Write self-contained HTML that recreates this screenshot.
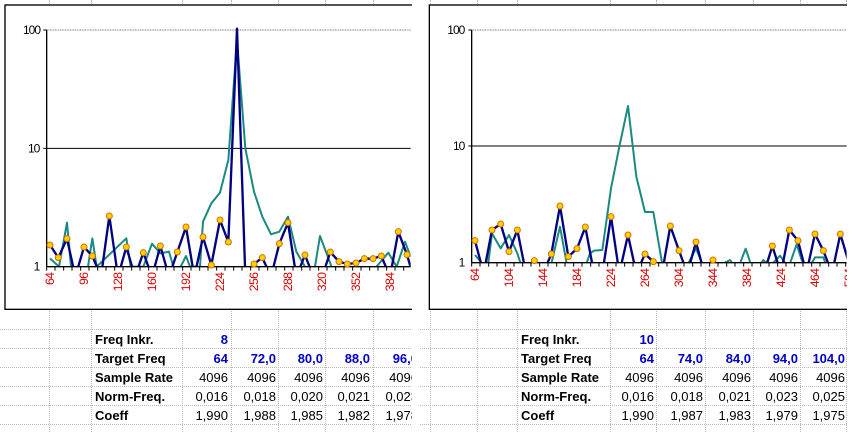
<!DOCTYPE html>
<html><head><meta charset="utf-8"><style>
html,body{margin:0;padding:0;background:#fff;}
body{width:853px;height:432px;position:relative;overflow:hidden;font-family:"Liberation Sans",Arial,sans-serif;}
.win{position:absolute;top:0;height:432px;overflow:hidden;background:#fff;}
.vl{position:absolute;top:0;width:0;height:432px;border-left:1px dotted #b8b8b8;}
.hl{position:absolute;left:0;height:0;border-top:1px dotted #b8b8b8;}
.t{position:absolute;font-size:13px;line-height:19px;height:19px;white-space:nowrap;}
.b{font-weight:bold;}
.blue{color:#0000c8;font-weight:bold;}
svg{position:absolute;left:0;top:0;}
</style></head><body>

<!-- LEFT WINDOW -->
<div class="win" style="left:0;width:412px;">
  <div class="vl" style="left:49px"></div><div class="vl" style="left:91px"></div><div class="vl" style="left:182px"></div>
  <div class="vl" style="left:231px"></div><div class="vl" style="left:278px"></div><div class="vl" style="left:325px"></div>
  <div class="vl" style="left:373px"></div>
  <div class="hl" style="top:329px;width:415px"></div><div class="hl" style="top:348px;width:415px"></div>
  <div class="hl" style="top:367px;width:415px"></div><div class="hl" style="top:386px;width:415px"></div>
  <div class="hl" style="top:405px;width:415px"></div><div class="hl" style="top:424px;width:415px"></div>
  <svg width="430" height="320" viewBox="0 0 1290 960">
    <rect x="15" y="15" width="1300" height="913" fill="#fff" stroke="#000" stroke-width="4"/>
    <defs><clipPath id="c1"><rect x="140" y="60" width="1092" height="740"/></clipPath></defs>
    <line x1="140" y1="90" x2="1232" y2="90" stroke="#777" stroke-width="3" stroke-dasharray="3,2"/>
    <line x1="140" y1="445" x2="1232" y2="445" stroke="#000" stroke-width="3"/>
    <line x1="140" y1="90" x2="140" y2="800" stroke="#000" stroke-width="4"/>
    <line x1="130" y1="90" x2="140" y2="90" stroke="#000" stroke-width="3"/>
    <line x1="130" y1="445" x2="140" y2="445" stroke="#000" stroke-width="3"/>
    <g font-size="36" fill="#000" text-anchor="end" letter-spacing="-3">
      <text x="120" y="102">100</text><text x="118" y="457">10</text><text x="118" y="812">1</text>
    </g>
    <g clip-path="url(#c1)" fill="none" stroke-linejoin="round">
      <polyline stroke="#1a8a80" stroke-width="6" points="150,775 177,800 201,668 213,800 252,830 264,800 277,715 290,800 379,715 392,800 430,800 456,731 481,760 507,755 520,800 532,820 558,768 570,800 600,800 609,665 634,610 660,578 685,480 711,120 736,445 762,575 787,650 813,703 838,695 864,650 889,755 915,800 940,830 960,708 991,790 1000,820 1125,805 1165,758 1190,800 1215,725 1232,770"/>
      <polyline stroke="#000080" stroke-width="7" points="150,735 175,773 201,716 226,830 252,741 277,768 303,830 328,648 354,830 379,741 405,830 430,758 456,830 481,738 507,830 532,756 558,681 583,830 609,711 634,795 660,660 685,726 711,86 736,830 762,792 787,773 813,830 838,731 864,668 889,830 915,765 940,830 966,830 991,756 1017,785 1042,792 1068,789 1093,776 1119,776 1144,768 1170,830 1195,695 1221,764 1240,830"/>
    </g>
    <line x1="140" y1="800" x2="1232" y2="800" stroke="#000" stroke-width="4"/>
    <g stroke="#000" stroke-width="3">
      <path d="M140 800v12M165 800v12M191 800v12M216 800v12M242 800v12M267 800v12M293 800v12M318 800v12M344 800v12M369 800v12M395 800v12M420 800v12M446 800v12M471 800v12M497 800v12M522 800v12M548 800v12M573 800v12M599 800v12M624 800v12M650 800v12M675 800v12M701 800v12M726 800v12M752 800v12M777 800v12M803 800v12M828 800v12M854 800v12M879 800v12M905 800v12M930 800v12M956 800v12M981 800v12M1007 800v12M1032 800v12M1058 800v12M1083 800v12M1109 800v12M1134 800v12M1160 800v12M1185 800v12M1211 800v12"/>
    </g>
    <g fill="#ffd000" stroke="#d07000" stroke-width="3">
      <circle cx="150" cy="735" r="9"/><circle cx="175" cy="773" r="9"/><circle cx="201" cy="716" r="9"/><circle cx="252" cy="741" r="9"/><circle cx="277" cy="768" r="9"/><circle cx="328" cy="648" r="9"/><circle cx="379" cy="741" r="9"/><circle cx="430" cy="758" r="9"/><circle cx="481" cy="738" r="9"/><circle cx="532" cy="756" r="9"/><circle cx="558" cy="681" r="9"/><circle cx="609" cy="711" r="9"/><circle cx="634" cy="795" r="9"/><circle cx="660" cy="660" r="9"/><circle cx="685" cy="726" r="9"/><circle cx="762" cy="792" r="9"/><circle cx="787" cy="773" r="9"/><circle cx="838" cy="731" r="9"/><circle cx="864" cy="668" r="9"/><circle cx="915" cy="765" r="9"/><circle cx="991" cy="756" r="9"/><circle cx="1017" cy="785" r="9"/><circle cx="1042" cy="792" r="9"/><circle cx="1068" cy="789" r="9"/><circle cx="1093" cy="776" r="9"/><circle cx="1119" cy="776" r="9"/><circle cx="1144" cy="768" r="9"/><circle cx="1195" cy="695" r="9"/><circle cx="1221" cy="764" r="9"/>
    </g>
    <g font-size="37" fill="#e00000" text-anchor="end" letter-spacing="-2">
      <text transform="translate(162,818) rotate(-90)">64</text>
      <text transform="translate(264,818) rotate(-90)">96</text>
      <text transform="translate(366,818) rotate(-90)">128</text>
      <text transform="translate(468,818) rotate(-90)">160</text>
      <text transform="translate(570,818) rotate(-90)">192</text>
      <text transform="translate(672,818) rotate(-90)">224</text>
      <text transform="translate(774,818) rotate(-90)">256</text>
      <text transform="translate(876,818) rotate(-90)">288</text>
      <text transform="translate(978,818) rotate(-90)">320</text>
      <text transform="translate(1080,818) rotate(-90)">352</text>
      <text transform="translate(1182,818) rotate(-90)">384</text>
    </g>
  </svg>
  <div class="t b" style="left:95px;top:330px">Freq Inkr.</div>
  <div class="t b" style="left:95px;top:349px">Target Freq</div>
  <div class="t b" style="left:95px;top:368px">Sample Rate</div>
  <div class="t b" style="left:95px;top:387px">Norm-Freq.</div>
  <div class="t b" style="left:95px;top:406px">Coeff</div>
  <div class="t blue" style="left:182px;width:46px;text-align:right;top:330px">8</div>
  <div class="t blue" style="left:182px;width:46px;text-align:right;top:349px">64</div>
  <div class="t blue" style="left:231px;width:45px;text-align:right;top:349px">72,0</div>
  <div class="t blue" style="left:278px;width:45px;text-align:right;top:349px">80,0</div>
  <div class="t blue" style="left:325px;width:45px;text-align:right;top:349px">88,0</div>
  <div class="t blue" style="left:373px;width:45px;text-align:right;top:349px">96,0</div>
  <div class="t" style="left:182px;width:46px;text-align:right;top:368px">4096</div>
  <div class="t" style="left:231px;width:45px;text-align:right;top:368px">4096</div>
  <div class="t" style="left:278px;width:45px;text-align:right;top:368px">4096</div>
  <div class="t" style="left:325px;width:45px;text-align:right;top:368px">4096</div>
  <div class="t" style="left:373px;width:45px;text-align:right;top:368px">4096</div>
  <div class="t" style="left:182px;width:46px;text-align:right;top:387px">0,016</div>
  <div class="t" style="left:231px;width:45px;text-align:right;top:387px">0,018</div>
  <div class="t" style="left:278px;width:45px;text-align:right;top:387px">0,020</div>
  <div class="t" style="left:325px;width:45px;text-align:right;top:387px">0,021</div>
  <div class="t" style="left:373px;width:45px;text-align:right;top:387px">0,023</div>
  <div class="t" style="left:182px;width:46px;text-align:right;top:406px">1,990</div>
  <div class="t" style="left:231px;width:45px;text-align:right;top:406px">1,988</div>
  <div class="t" style="left:278px;width:45px;text-align:right;top:406px">1,985</div>
  <div class="t" style="left:325px;width:45px;text-align:right;top:406px">1,982</div>
  <div class="t" style="left:373px;width:45px;text-align:right;top:406px">1,978</div>
</div>

<!-- RIGHT WINDOW -->
<div class="win" style="left:420px;width:427px;">
  <div class="vl" style="left:10px"></div><div class="vl" style="left:57px"></div><div class="vl" style="left:97px"></div>
  <div class="vl" style="left:190px"></div><div class="vl" style="left:236px"></div><div class="vl" style="left:285px"></div>
  <div class="vl" style="left:333px"></div><div class="vl" style="left:380px"></div><div class="vl" style="left:426px"></div>
  <div class="hl" style="top:329px;width:427px"></div><div class="hl" style="top:348px;width:427px"></div>
  <div class="hl" style="top:367px;width:427px"></div><div class="hl" style="top:386px;width:427px"></div>
  <div class="hl" style="top:405px;width:427px"></div><div class="hl" style="top:424px;width:427px"></div>
  <svg width="433" height="320" viewBox="0 0 1299 960">
    <rect x="28" y="15" width="1300" height="913" fill="#fff" stroke="#000" stroke-width="4"/>
    <defs><clipPath id="c2"><rect x="155" y="60" width="1125" height="728"/></clipPath></defs>
    <line x1="155" y1="90" x2="1280" y2="90" stroke="#777" stroke-width="3" stroke-dasharray="3,2"/>
    <line x1="155" y1="438" x2="1280" y2="438" stroke="#000" stroke-width="3"/>
    <line x1="155" y1="90" x2="155" y2="788" stroke="#000" stroke-width="4"/>
    <line x1="145" y1="90" x2="155" y2="90" stroke="#000" stroke-width="3"/>
    <line x1="145" y1="438" x2="155" y2="438" stroke="#000" stroke-width="3"/>
    <g font-size="36" fill="#000" text-anchor="end" letter-spacing="-3">
      <text x="133" y="102">100</text><text x="133" y="450">10</text><text x="133" y="800">1</text>
    </g>
    <g clip-path="url(#c2)" fill="none" stroke-linejoin="round">
      <polyline stroke="#1a8a80" stroke-width="6" points="165,765 191,795 205,788 216,700 242,745 267,705 292,760 305,800 392,800 420,680 440,790 445,800 496,800 510,760 522,752 547,750 573,565 598,440 624,318 649,530 675,636 700,636 726,788 800,800 828,745 850,800 915,788 930,780 945,800 960,790 977,746 995,800 1015,800 1030,780 1045,795 1060,788 1080,767 1100,795 1110,790 1130,733 1145,780 1160,800 1175,790 1185,772 1210,772 1220,800"/>
      <polyline stroke="#000080" stroke-width="7" points="165,722 191,820 216,690 242,672 267,755 292,690 318,820 343,782 369,820 394,762 420,618 445,770 471,746 496,681 522,820 547,820 573,650 598,820 624,705 649,820 675,762 700,785 726,820 751,678 777,752 802,820 828,726 853,820 879,780 904,820 1032,820 1057,738 1083,820 1108,690 1134,722 1159,820 1185,702 1210,752 1236,820 1261,702 1287,790"/>
    </g>
    <line x1="155" y1="788" x2="1280" y2="788" stroke="#000" stroke-width="4"/>
    <g stroke="#000" stroke-width="3">
      <path d="M155 788v12M180 788v12M206 788v12M231 788v12M257 788v12M282 788v12M308 788v12M333 788v12M359 788v12M384 788v12M410 788v12M435 788v12M461 788v12M486 788v12M512 788v12M537 788v12M563 788v12M588 788v12M614 788v12M639 788v12M665 788v12M690 788v12M716 788v12M741 788v12M767 788v12M792 788v12M818 788v12M843 788v12M869 788v12M894 788v12M920 788v12M945 788v12M971 788v12M996 788v12M1022 788v12M1047 788v12M1073 788v12M1098 788v12M1124 788v12M1149 788v12M1175 788v12M1200 788v12M1226 788v12M1251 788v12M1277 788v12"/>
    </g>
    <g fill="#ffd000" stroke="#d07000" stroke-width="3">
      <circle cx="165" cy="722" r="9"/><circle cx="216" cy="690" r="9"/><circle cx="242" cy="672" r="9"/><circle cx="267" cy="755" r="9"/><circle cx="292" cy="690" r="9"/><circle cx="343" cy="782" r="9"/><circle cx="394" cy="762" r="9"/><circle cx="420" cy="618" r="9"/><circle cx="445" cy="770" r="9"/><circle cx="471" cy="746" r="9"/><circle cx="496" cy="681" r="9"/><circle cx="573" cy="650" r="9"/><circle cx="624" cy="705" r="9"/><circle cx="675" cy="762" r="9"/><circle cx="700" cy="785" r="9"/><circle cx="751" cy="678" r="9"/><circle cx="777" cy="752" r="9"/><circle cx="828" cy="726" r="9"/><circle cx="879" cy="780" r="9"/><circle cx="1057" cy="738" r="9"/><circle cx="1108" cy="690" r="9"/><circle cx="1134" cy="722" r="9"/><circle cx="1185" cy="702" r="9"/><circle cx="1210" cy="752" r="9"/><circle cx="1261" cy="702" r="9"/>
    </g>
    <g font-size="37" fill="#e00000" text-anchor="end" letter-spacing="-2">
      <text transform="translate(177,806) rotate(-90)">64</text>
      <text transform="translate(279,806) rotate(-90)">104</text>
      <text transform="translate(381,806) rotate(-90)">144</text>
      <text transform="translate(483,806) rotate(-90)">184</text>
      <text transform="translate(585,806) rotate(-90)">224</text>
      <text transform="translate(687,806) rotate(-90)">264</text>
      <text transform="translate(789,806) rotate(-90)">304</text>
      <text transform="translate(891,806) rotate(-90)">344</text>
      <text transform="translate(993,806) rotate(-90)">384</text>
      <text transform="translate(1095,806) rotate(-90)">424</text>
      <text transform="translate(1197,806) rotate(-90)">464</text>
      <text transform="translate(1299,806) rotate(-90)">504</text>
    </g>
  </svg>
  <div class="t b" style="left:101px;top:330px">Freq Inkr.</div>
  <div class="t b" style="left:101px;top:349px">Target Freq</div>
  <div class="t b" style="left:101px;top:368px">Sample Rate</div>
  <div class="t b" style="left:101px;top:387px">Norm-Freq.</div>
  <div class="t b" style="left:101px;top:406px">Coeff</div>
  <div class="t blue" style="left:190px;width:44px;text-align:right;top:330px">10</div>
  <div class="t blue" style="left:190px;width:44px;text-align:right;top:349px">64</div>
  <div class="t blue" style="left:236px;width:47px;text-align:right;top:349px">74,0</div>
  <div class="t blue" style="left:285px;width:46px;text-align:right;top:349px">84,0</div>
  <div class="t blue" style="left:333px;width:45px;text-align:right;top:349px">94,0</div>
  <div class="t blue" style="left:380px;width:45px;text-align:right;top:349px">104,0</div>
  <div class="t" style="left:190px;width:44px;text-align:right;top:368px">4096</div>
  <div class="t" style="left:236px;width:47px;text-align:right;top:368px">4096</div>
  <div class="t" style="left:285px;width:46px;text-align:right;top:368px">4096</div>
  <div class="t" style="left:333px;width:45px;text-align:right;top:368px">4096</div>
  <div class="t" style="left:380px;width:45px;text-align:right;top:368px">4096</div>
  <div class="t" style="left:190px;width:44px;text-align:right;top:387px">0,016</div>
  <div class="t" style="left:236px;width:47px;text-align:right;top:387px">0,018</div>
  <div class="t" style="left:285px;width:46px;text-align:right;top:387px">0,021</div>
  <div class="t" style="left:333px;width:45px;text-align:right;top:387px">0,023</div>
  <div class="t" style="left:380px;width:45px;text-align:right;top:387px">0,025</div>
  <div class="t" style="left:190px;width:44px;text-align:right;top:406px">1,990</div>
  <div class="t" style="left:236px;width:47px;text-align:right;top:406px">1,987</div>
  <div class="t" style="left:285px;width:46px;text-align:right;top:406px">1,983</div>
  <div class="t" style="left:333px;width:45px;text-align:right;top:406px">1,979</div>
  <div class="t" style="left:380px;width:45px;text-align:right;top:406px">1,975</div>
</div>
</body></html>
